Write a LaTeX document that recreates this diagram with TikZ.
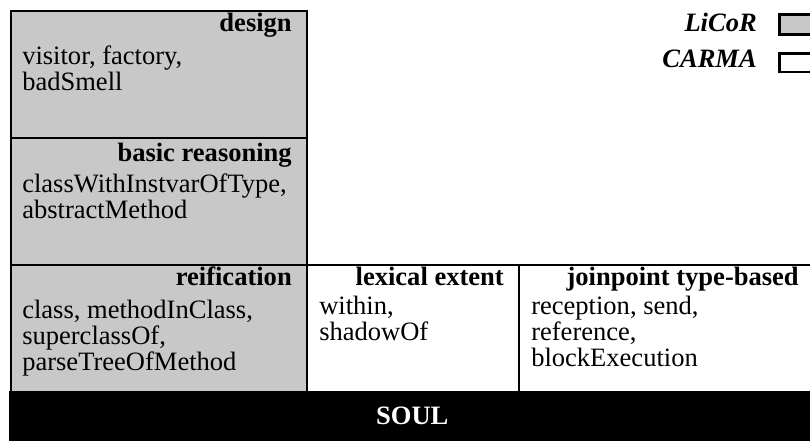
\documentclass[tikz,border=0pt]{standalone}
\usepackage{fontspec}
\setmainfont{Liberation Serif}
\usetikzlibrary{positioning}
\definecolor{licorgray}{RGB}{200,200,200}
\tikzstyle{licorcell} = [rectangle, anchor=north west, draw=black, line width=1.5pt, fill=licorgray, minimum height=95.25pt, inner sep=0pt]
\tikzstyle{carmacell} = [rectangle, anchor=north west, draw=black, line width=1.5pt, fill=white, minimum height=95.25pt, inner sep=0pt]
\tikzstyle{soulbar} = [rectangle, anchor=north west, fill=black, minimum width=604.5pt, minimum height=37.5pt, inner sep=0pt]
\tikzstyle{head} = [anchor=base east, inner sep=0pt, font=\fontsize{19.9}{19.5}\selectfont\bfseries]
\tikzstyle{body} = [anchor=base west, inner sep=0pt, align=left, font=\fontsize{19.9}{19.5}\selectfont]
\tikzstyle{legendtext} = [anchor=base east, inner sep=0pt, font=\fontsize{19.9}{19.5}\selectfont\bfseries\itshape]
\tikzstyle{legendbox} = [rectangle, anchor=north west, draw=black, line width=2pt, minimum width=30pt, inner sep=0pt]

\begin{document}
\begin{tikzpicture}[x=0.75pt, y=-0.75pt]
\useasboundingbox (0,0) rectangle (810,441);

\node (design) [licorcell, minimum width=222pt] at (10,10) {};
\node (basic) [licorcell, minimum width=222pt] at (10,137) {};
\node (reif) [licorcell, minimum width=222pt] at (10,264) {};
\node (lexical) [carmacell, minimum width=159pt] at (306,264) {};
\node (joinpoint) [carmacell, minimum width=221.25pt] at (518,264) {};
\node (soul) [soulbar] at (9,391) {};

\node (designhead) [head] at ([xshift=-12pt, yshift=-16.5pt]design.north east) {design};
\node (designbody) [body] at ([xshift=9pt, yshift=-60.5pt]design.north west) {visitor, factory,\\badSmell};
\node (basichead) [head] at ([xshift=-12pt, yshift=-18.5pt]basic.north east) {basic reasoning};
\node (basicbody) [body] at ([xshift=9pt, yshift=-61.5pt]basic.north west) {classWithInstvarOfType,\\abstractMethod};
\node (reifhead) [head] at ([xshift=-12pt, yshift=-16.5pt]reif.north east) {reification};
\node (reifbody) [body] at ([xshift=9pt, yshift=-80pt]reif.north west) {class, methodInClass,\\superclassOf,\\parseTreeOfMethod};
\node (lexicalhead) [head] at ([xshift=-12pt, yshift=-16.5pt]lexical.north east) {lexical extent};
\node (lexicalbody) [body] at ([xshift=9.75pt, yshift=-57.5pt]lexical.north west) {within,\\shadowOf};
\node (joinpointhead) [head] at ([xshift=-12pt, yshift=-16.5pt]joinpoint.north east) {joinpoint type-based};
\node (joinpointbody) [body] at ([xshift=9.75pt, yshift=-77pt]joinpoint.north west) {reception, send,\\reference,\\blockExecution};
\node (soultext) [text=white, inner sep=0pt, font=\fontsize{19.9}{19.5}\selectfont\bfseries] at (soul.center) {SOUL};

\node (licortext) [legendtext] at (757,32) {LiCoR};
\node (licorbox) [legendbox, fill=licorgray, minimum height=15pt] at (778,13) {};
\node (carmatext) [legendtext] at (757,68) {CARMA};
\node (carmabox) [legendbox, fill=white, minimum height=14pt] at (778,52) {};
\end{tikzpicture}
\end{document}
